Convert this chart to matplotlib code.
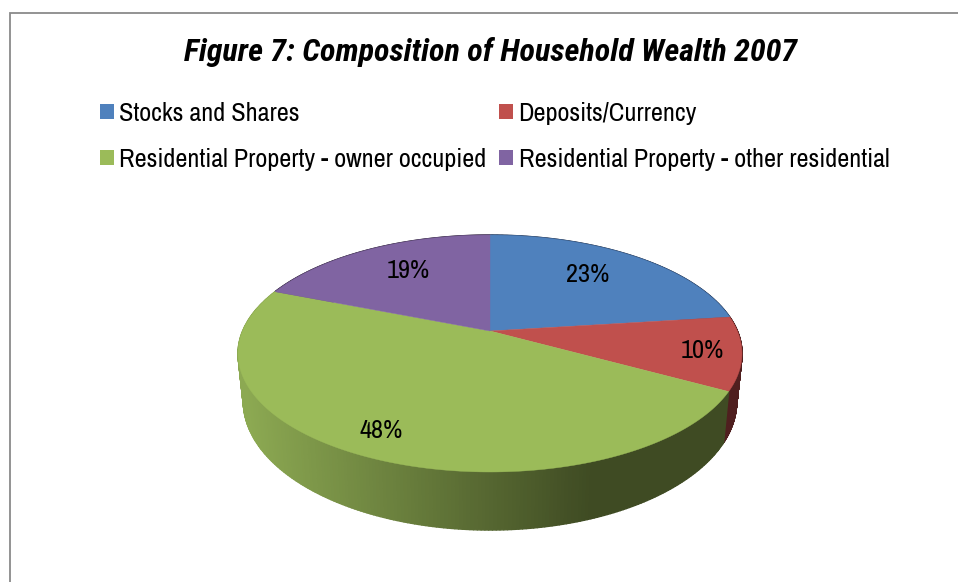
import numpy as np
import matplotlib
matplotlib.use("Agg")
import matplotlib.pyplot as plt
from matplotlib.collections import PolyCollection
from matplotlib.patches import Patch, Polygon
from matplotlib.colors import to_rgb

TITLE = "Figure 7: Composition of Household Wealth 2007"
categories = ["Stocks and Shares", "Deposits/Currency",
              "Residential Property - owner occupied",
              "Residential Property - other residential"]
shares = [23, 10, 48, 19]
colors = ["#4F81BD", "#C0504D", "#9BBB59", "#8064A2"]
FONT = ["Archivo Narrow", "Liberation Sans", "DejaVu Sans"]
TITLE_FONT = ["Roboto Condensed", "Liberation Sans", "DejaVu Sans"]
plt.rcParams["font.family"] = FONT

# projection of the pie disc
CX, CY = 490, 331      # apex in pixels
BX, AY, K = 247.4, 114.2, 0.19
SX, SY, DROP = 0.979, 1.0875, 45.7


def rim(theta, bottom=False):
    """theta clockwise from 12 o'clock, radians"""
    x, y = np.sin(theta), np.cos(theta)
    d = 1 + K * y
    px, py = BX * x / d, -AY * y / d
    if bottom:
        px, py = px * SX, py * SY + DROP
    return CX + px, CY + py


def wall_shade(base_dark, base_light, px):
    t = np.clip((px - 245) / (590 - 245), 0, 1)[:, None]
    return np.array(to_rgb(base_light)) * (1 - t) + np.array(to_rgb(base_dark)) * t


fig = plt.figure(figsize=(9.58, 5.82), dpi=100)
ax = fig.add_axes([0, 0, 1, 1])
ax.set_xlim(0, 958)
ax.set_ylim(582, 0)
ax.axis("off")

ends = np.cumsum(shares) / np.sum(shares) * 2 * np.pi
starts = np.r_[0, ends[:-1]]

# frame: top and left edge only
ax.plot([10.5, 10.5, 958], [582, 12.5, 12.5], color="#8A8A8A", lw=1.3,
        solid_joinstyle="miter", zorder=1)

# side wall, painted as thin vertical strips
wall_pal = [("#2A3F5F", "#2A3F5F"), ("#4F1F1F", "#4F1F1F"),
            ("#3F4B23", "#8CA952"), ("#40324F", "#40324F")]
for i in [0, 3, 1, 2]:
    t = np.linspace(starts[i], ends[i], 240)
    xt, yt = rim(t)
    xb, yb = rim(t, True)
    quads = [[(xt[j], yt[j]), (xt[j + 1], yt[j + 1]), (xb[j + 1], yb[j + 1]), (xb[j], yb[j])]
             for j in range(len(t) - 1)]
    mid = (xt[:-1] + xt[1:]) / 2
    cols = wall_shade(wall_pal[i][0], wall_pal[i][1], mid)
    ax.add_collection(PolyCollection(quads, facecolors=cols, edgecolors=cols, linewidths=1.0, zorder=2))

# top face
for i in range(len(shares)):
    t = np.linspace(starts[i], ends[i], 240)
    xt, yt = rim(t)
    pts = np.column_stack([np.r_[CX, xt], np.r_[CY, yt]])
    ax.add_patch(Polygon(pts, closed=True, facecolor=colors[i], edgecolor=colors[i], lw=0.3, zorder=3))

# value labels
label_xy = [(588, 275), (702, 350), (381, 431), (408, 270)]
for v, (lx, ly) in zip(shares, label_xy):
    ax.text(lx, ly, f"{v}%", ha="center", va="center", fontsize=19, color="black", zorder=4)

ax.text(490.5, 52, TITLE, ha="center", va="center", fontsize=23.1, family=TITLE_FONT,
        fontweight="bold", fontstyle="italic", color="black")

handles = [Patch(facecolor=c, edgecolor="none", label=n) for c, n in zip(colors, categories)]
order = [0, 2, 1, 3]
leg = ax.legend([handles[i] for i in order], [categories[i] for i in order], ncol=2,
                loc="upper left", bbox_to_anchor=(100, 102), bbox_transform=ax.transData,
                frameon=False, fontsize=18.85, handlelength=0.53, handleheight=0.53,
                handletextpad=0.2, columnspacing=0.5, labelspacing=0.88,
                borderpad=0, borderaxespad=0)

fig.savefig("out.png", dpi=100)
